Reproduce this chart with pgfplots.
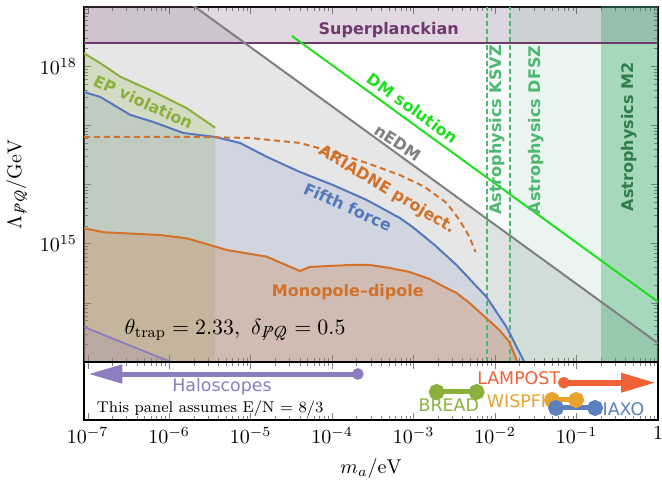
\documentclass[border=0pt]{standalone}
\usepackage{pgfplots}
\pgfplotsset{compat=1.18}
\usepackage{fontspec}
\usetikzlibrary{arrows.meta}
\newfontfamily\djv[Ligatures=TeX]{DejaVu Sans}
\definecolor{cblue}{HTML}{5577BB}
\definecolor{corange}{HTML}{D2722A}
\definecolor{colive}{HTML}{8CB03C}
\definecolor{chalo}{HTML}{8C7CC0}
\definecolor{csuper}{HTML}{6E3A6E}
\definecolor{castro}{HTML}{2CA25F}
\definecolor{cksvz}{HTML}{4DB872}
\definecolor{cmtwo}{HTML}{2E7D4A}
\definecolor{cdm}{HTML}{1FE01F}
\definecolor{clamp}{HTML}{EE6235}
\definecolor{cwisp}{HTML}{E8A22E}
\definecolor{ciaxo}{HTML}{5B7FBF}
\definecolor{cnedm}{HTML}{808080}
\tikzset{lab/.style={font={\djv\bfseries\fontsize{8}{9}\selectfont}},
         lowlab/.style={font={\djv\fontsize{8.7}{10}\selectfont}}}
\begin{document}
\begin{tikzpicture}
\pgfplotsset{
  every axis/.append style={scale only axis, width=287pt, xmode=log, xmin=9e-8, xmax=1,
    tick align=inside, major tick length=3.5pt, minor tick length=2pt,
    axis line style={line width=0.6pt},
    xtick={1e-7,1e-6,1e-5,1e-4,1e-3,1e-2,1e-1,1}},
}
\begin{axis}[at={(0,0)}, anchor=north west, height=177.5pt, ymode=log, ymin=1e13, ymax=1e19,
  xticklabels={},
  ytick={1e13,1e14,1e15,1e16,1e17,1e18,1e19},
  yticklabels={,,$10^{15}$,,,$10^{18}$,},
  ylabel={$\Lambda_{\not P\not Q}/\mathrm{GeV}$},
  ylabel style={at={(axis description cs:-0.117,0.5)}, anchor=center},
]
% fills
\addplot[draw=none, fill=cnedm, fill opacity=0.2, forget plot] coordinates {(8e-8,2.606e20) (1.2,1.7375e13) (1.2,5e12) (8e-8,5e12)};
\addplot[draw=none, fill=csuper, fill opacity=0.2, forget plot] coordinates {(8e-8,2.435e18) (1.2,2.435e18) (1.2,2e19) (8e-8,2e19)};
\addplot[draw=none, fill=castro, fill opacity=0.04, forget plot] coordinates {(8e-3,5e12) (1.2,5e12) (1.2,2e19) (8e-3,2e19)};
\addplot[draw=none, fill=castro, fill opacity=0.07, forget plot] coordinates {(1.5e-2,5e12) (1.2,5e12) (1.2,2e19) (1.5e-2,2e19)};
\addplot[draw=none, fill=castro, fill opacity=0.35, forget plot] coordinates {(0.2,5e12) (1.2,5e12) (1.2,2e19) (0.2,2e19)};
\addplot[draw=none, fill=colive, fill opacity=0.2, forget plot] coordinates {(9e-8,5e12) (9e-8,1.65e18) (1.43e-7,1.12e18) (2.51e-7,6.64e17) (7.08e-7,3.48e17) (1.65e-6,1.94e17) (3.66e-6,9.12e16) (3.66e-6,5e12)};
\addplot[draw=none, fill=cblue, fill opacity=0.15, forget plot] coordinates {(9e-8,5e12) (9e-8,3.66e17) (1.43e-7,3.01e17) (3.33e-7,1.50e17) (6.37e-7,1.14e17) (1.49e-6,7.42e16) (3.66e-6,6.36e16) (7.41e-6,5.03e16) (1.59e-5,2.92e16) (4.02e-5,1.63e16) (1.02e-4,9.82e15) (2.66e-4,5.47e15) (6.75e-4,2.72e15) (9.73e-4,1.91e15) (1.81e-3,9.5e14) (3.36e-3,4.36e14) (7.83e-3,1.26e14) (1.38e-2,3.91e13) (2.29e-2,1.0e13) (2.5e-2,5e12)};
\addplot[draw=none, fill=corange, fill opacity=0.25, forget plot] coordinates {(9e-8,5e12) (9e-8,1.82e15) (1.57e-7,1.56e15) (7.76e-7,1.40e15) (1.65e-6,1.23e15) (5.09e-6,7.82e14) (1.57e-5,6.03e14) (4.02e-5,3.45e14) (5.33e-5,4.04e14) (9.37e-5,4.20e14) (1.65e-4,4.36e14) (2.90e-4,4.36e14) (5.09e-4,3.88e14) (8.94e-4,3.32e14) (1.57e-3,2.53e14) (2.40e-3,1.85e14) (3.36e-3,1.47e14) (4.85e-3,9.94e13) (6.43e-3,7.0e13) (8.53e-3,4.93e13) (1.13e-2,3.47e13) (1.50e-2,2.18e13) (1.88e-2,1.0e13) (2e-2,5e12)};
\addplot[draw=none, fill=chalo, fill opacity=0.2, forget plot] coordinates {(9e-8,5e12) (9e-8,3.91e13) (1.05e-6,1e13) (1.05e-6,5e12)};
% lines
\addplot[csuper, line width=0.9pt] coordinates {(9e-8,2.435e18) (1,2.435e18)};
\addplot[cnedm, line width=1pt] coordinates {(1e-6,2.085e19) (1,2.085e13)};
\addplot[cdm, line width=1pt] coordinates {(3.2e-5,3.25e18) (1,1.04e14)};
\addplot[cksvz, line width=0.8pt, dash pattern=on 2.5pt off 1.5pt] coordinates {(8e-3,1e13) (8e-3,1e19)};
\addplot[cksvz, line width=0.9pt, dash pattern=on 2.5pt off 1.5pt] coordinates {(1.53e-2,1e13) (1.53e-2,1e19)};
\addplot[colive, line width=1pt] coordinates {(9e-8,1.65e18) (1.43e-7,1.12e18) (2.51e-7,6.64e17) (7.08e-7,3.48e17) (1.65e-6,1.94e17) (3.66e-6,9.12e16)};
\addplot[cblue, line width=1pt] coordinates {(9e-8,3.66e17) (1.43e-7,3.01e17) (3.33e-7,1.50e17) (6.37e-7,1.14e17) (1.49e-6,7.42e16) (3.66e-6,6.36e16) (7.41e-6,5.03e16) (1.59e-5,2.92e16) (4.02e-5,1.63e16) (1.02e-4,9.82e15) (2.66e-4,5.47e15) (6.75e-4,2.72e15) (9.73e-4,1.91e15) (1.81e-3,9.5e14) (3.36e-3,4.36e14) (7.83e-3,1.26e14) (1.38e-2,3.91e13) (2.29e-2,1.0e13)};
\addplot[corange, line width=1pt, dash pattern=on 3pt off 2pt] coordinates {(9e-8,6.36e16) (2.40e-6,6.36e16) (9.82e-6,6.11e16) (4.02e-5,5.03e16) (1.02e-4,3.54e16) (2.66e-4,2.31e16) (6.75e-4,1.45e16) (1.37e-3,9.08e15) (2.54e-3,4.88e15) (3.66e-3,2.51e15) (4.85e-3,1.30e15) (5.75e-3,7.23e14)};
\addplot[corange, line width=1pt] coordinates {(9e-8,1.82e15) (1.57e-7,1.56e15) (7.76e-7,1.40e15) (1.65e-6,1.23e15) (5.09e-6,7.82e14) (1.57e-5,6.03e14) (4.02e-5,3.45e14) (5.33e-5,4.04e14) (9.37e-5,4.20e14) (1.65e-4,4.36e14) (2.90e-4,4.36e14) (5.09e-4,3.88e14) (8.94e-4,3.32e14) (1.57e-3,2.53e14) (2.40e-3,1.85e14) (3.36e-3,1.47e14) (4.85e-3,9.94e13) (6.43e-3,7.0e13) (8.53e-3,4.93e13) (1.13e-2,3.47e13) (1.50e-2,2.18e13) (1.88e-2,1.0e13)};
\addplot[chalo, line width=0.9pt] coordinates {(9e-8,3.91e13) (1.05e-6,1e13)};
% labels
\node[lab, text=csuper] at (axis cs:4.95e-4,4.08e18) {Superplanckian};
\node[lab, text=colive, rotate=-24.5] at (axis cs:4.81e-7,2.48e17) {EP violation};
\node[lab, text=cblue, rotate=-24] at (axis cs:1.56e-4,4.17e15) {Fifth force};
\node[lab, text=corange, rotate=-31] at (axis cs:4.68e-4,8.08e15) {ARIADNE project.};
\node[lab, text=cnedm, rotate=-33.4] at (axis cs:6.38e-4,5.04e16) {nEDM};
\node[lab, text=cdm, rotate=-36] at (axis cs:9.73e-4,1.96e17) {DM solution};
\node[lab, text=corange] at (axis cs:1.56e-4,1.52e14) {Monopole–dipole};
\node[lab, text=cksvz, rotate=90] at (axis cs:1.07e-2,8.34e16) {Astrophysics KSVZ};
\node[lab, text=cksvz, rotate=90] at (axis cs:3.2e-2,8.34e16) {Astrophysics DFSZ};
\node[lab, text=cmtwo, rotate=90] at (axis cs:0.446,6.36e16) {Astrophysics M2};
\node at (axis cs:6.44e-6,3.47e13) {\fontsize{11}{13}\selectfont $\theta_{\mathrm{trap}}=2.33,\ \delta_{\not P\not Q}=0.5$};
\end{axis}
\begin{axis}[at={(0,-177.5pt)}, anchor=north west, height=29pt, ymin=0, ymax=1, ytick=\empty,
  xticklabels={$10^{-7}$,$10^{-6}$,$10^{-5}$,$10^{-4}$,$10^{-3}$,$10^{-2}$,$10^{-1}$,$1$},
  xlabel={$m_a/\mathrm{eV}$}, xlabel style={at={(axis description cs:0.5,-0.83)}, anchor=center},
  clip=false,
]
\addplot[chalo, line width=2.5pt, -{Triangle[length=17pt,width=9pt]}] coordinates {(2.07e-4,0.793) (1.02e-7,0.793)};
\addplot[chalo, only marks, mark=*, mark size=2.7pt] coordinates {(2.07e-4,0.793)};
\addplot[clamp, line width=3pt, -{Triangle[length=17.5pt,width=9pt]}] coordinates {(6.98e-2,0.643) (0.95,0.643)};
\addplot[clamp, only marks, mark=*, mark size=2.7pt] coordinates {(6.98e-2,0.643)};
\addplot[colive, line width=2.5pt, mark=*, mark size=2.7pt] coordinates {(1.92e-3,0.483) (5.94e-3,0.483)};
\addplot[cwisp, line width=2.5pt, mark=*, mark size=2.7pt] coordinates {(5.0e-2,0.345) (9.9e-2,0.345)};
\addplot[ciaxo, line width=2.5pt, mark=*, mark size=2.7pt] coordinates {(5.6e-2,0.207) (0.169,0.207)};
\node[lowlab, text=chalo] at (axis cs:4.45e-6,0.578) {Haloscopes};
\node[font=\fontsize{7.8}{9}\selectfont, anchor=west, inner sep=0pt] at (axis cs:1.28e-7,0.2) {This panel assumes E/N = 8/3};
\node[lowlab, text=colive] at (axis cs:2.7e-3,0.259) {BREAD};
\node[lowlab, text=clamp] at (axis cs:1.95e-2,0.716) {LAMPOST};
\node[lowlab, text=cwisp] at (axis cs:1.83e-2,0.319) {WISPFI};
\node[lowlab, text=ciaxo] at (axis cs:0.377,0.19) {IAXO};
\end{axis}
\pgfresetboundingbox
\path[use as bounding box] (-42pt,3.5pt) rectangle (289pt,-239.5pt);
\end{tikzpicture}
\end{document}
